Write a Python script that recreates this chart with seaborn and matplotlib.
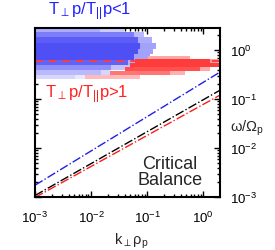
import matplotlib

matplotlib.use("Agg")
import matplotlib.pyplot as plt
import numpy as np
import seaborn as sns
from matplotlib.colors import LinearSegmentedColormap
from matplotlib.ticker import LogLocator, NullFormatter

# all values are log10
k_limits = [-3.0, 0.3]
omega_limits = [-3.0, 0.45]

# straight (power-law) curves, given at the two ends of the k range
line_k = [-3.0, 0.3]
line_blue = [-2.76, -0.45]
line_black = [-2.97, -0.82]
line_red = [-3.01, -0.92]

omega_threshold = -0.22

# T_perp/T_par < 1 population: one row per omega bin (edges top -> bottom)
blue_edges = [0.45, 0.37, 0.27, 0.14, 0.02, -0.08, -0.20, -0.31, -0.41, -0.51, -0.59]
blue_start = [-3.0] * 10
blue_solid_end = [-1.84, -1.23, -1.16, -1.13, -1.16, -1.23, -1.34, -1.64, -1.82, -2.29]
blue_tail_end = [-1.41, -1.05, -0.91, -0.84, -0.89, -0.95, -1.11, -1.29, -1.66, -2.07]
blue_level = [0.45, 0.7, 0.88, 0.95, 0.95, 0.95, 0.85, 0.6, 0.38, 0.22]
blue_tail_level = [0.28, 0.38, 0.45, 0.5, 0.5, 0.5, 0.42, 0.32, 0.22, 0.12]

# T_perp/T_par > 1 population
red_edges = [-0.12, -0.18, -0.27, -0.35, -0.43, -0.51, -0.59]
red_start = [-0.98, -1.21, -1.30, -1.39, -1.66, -2.11]
red_solid_end = [-0.23, 0.125, 0.30, -0.05, -0.59, -1.125]
red_tail_end = [-0.23, 0.27, 0.30, 0.125, -0.32, -1.125]
red_level = [0.45, 1.0, 1.0, 0.9, 0.7, 0.35]
red_tail_level = [0.3, 0.5, 0.5, 0.45, 0.4, 0.2]

BLUE = "#4646f6"
RED = "#ff3c3c"


def draw_rows(ax, edges, starts, solid_end, tail_end, level, tail_level, color):
    """Binned population drawn as one mesh; cell shade looked up from the row table."""
    x_edges = np.arange(k_limits[0], k_limits[1] + 0.005, 0.01)
    x_mid = (x_edges[:-1] + x_edges[1:]) / 2
    grid = np.zeros((len(level), len(x_mid)))
    for i in range(len(level)):
        solid = (x_mid >= starts[i]) & (x_mid < solid_end[i])
        tail = (x_mid >= solid_end[i]) & (x_mid < tail_end[i])
        grid[i, solid] = level[i]
        grid[i, tail] = tail_level[i]
    grid = np.ma.masked_equal(grid, 0)
    cmap = LinearSegmentedColormap.from_list("shade", ["white", color])
    ax.pcolormesh(10 ** x_edges, 10 ** np.array(edges), grid, cmap=cmap,
                  vmin=0, vmax=1, shading="flat", antialiased=False,
                  linewidth=0, rasterized=True, zorder=1)


sns.set_style("ticks")
plt.rcParams["font.family"] = ["Liberation Sans", "DejaVu Sans"]
plt.rcParams["mathtext.default"] = "regular"
plt.rcParams["mathtext.fontset"] = "dejavusans"

fig = plt.figure(figsize=(2.75, 2.51), dpi=100)
ax = fig.add_axes([35 / 275, 1 - 198 / 251, 185 / 275, 169 / 251])
ax.set_xscale("log")
ax.set_yscale("log")

draw_rows(ax, blue_edges, blue_start, blue_solid_end, blue_tail_end,
          blue_level, blue_tail_level, BLUE)
ax.axhline(10 ** omega_threshold, color=RED, linestyle=(0, (4, 3)), linewidth=1.4, zorder=2)
draw_rows(ax, red_edges, red_start, red_solid_end, red_tail_end,
          red_level, red_tail_level, RED)

k = 10 ** np.array(line_k)
for vals, col in [(line_blue, "#1f1fe6"), (line_black, "black"), (line_red, "#ff1a1a")]:
    sns.lineplot(x=k, y=10 ** np.array(vals), color=col, linestyle="-.",
                 linewidth=1.0, ax=ax, zorder=3)

ax.set_xlim(10 ** k_limits[0], 10 ** k_limits[1])
ax.set_ylim(10 ** omega_limits[0], 10 ** omega_limits[1])

for axis in (ax.xaxis, ax.yaxis):
    axis.set_major_locator(LogLocator(base=10, numticks=10))
    axis.set_minor_locator(LogLocator(base=10, subs=np.arange(2, 10), numticks=10))
    axis.set_minor_formatter(NullFormatter())

ax.tick_params(which="both", direction="in", top=True, bottom=True, left=True, right=True,
               labelleft=False, labelright=True, width=1.0, colors="black", labelsize=9.5)
ax.tick_params(which="major", length=4.5)
ax.tick_params(which="minor", length=2.5)
ax.tick_params(axis="x", which="major", pad=9)
ax.tick_params(axis="y", which="major", pad=7)
for s in ax.spines.values():
    s.set_linewidth(1.5)
    s.set_color("black")
    s.set_zorder(4)

ax.set_xlabel(r"k$_\perp\rho_p$", fontsize=10.5)
ax.xaxis.set_label_coords(0.52, -0.2)
ax.text(1.054, 0.414, r"$\omega/\Omega_p$", transform=ax.transAxes, fontsize=10.5,
        ha="left", va="center")

ax.text(0.297, 1.083, r"T$_\perp$p/T$_{||}$p<1", transform=ax.transAxes,
        color="#2222ff", fontsize=12, ha="center", va="baseline")
ax.text(0.054, 0.592, r"T$_\perp$p/T$_{||}$p>1", transform=ax.transAxes,
        color="#ff2222", fontsize=12, ha="left", va="baseline")
ax.text(0.73, 0.151, "Critical\nBalance", transform=ax.transAxes, fontsize=13,
        ha="center", va="center", linespacing=0.95)

fig.savefig("out.png", dpi=100)
